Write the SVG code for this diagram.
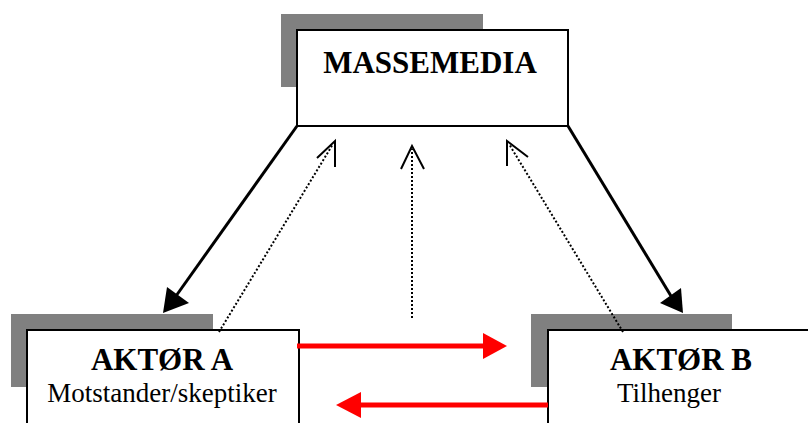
<svg xmlns="http://www.w3.org/2000/svg" width="808" height="423" viewBox="0 0 808 423">
<style>
.shadow{fill:#808080}
.box{fill:#fff;stroke:#000;stroke-width:2}
.title{font-family:"Liberation Serif",serif;font-weight:bold;font-size:31px;fill:#000;text-anchor:middle}
.sub{font-family:"Liberation Serif",serif;font-size:27px;fill:#000}
.solid{stroke:#000;stroke-width:3;fill:none}
.dot{stroke:#000;stroke-width:2;stroke-dasharray:2 2;fill:none}
.open{stroke:#000;stroke-width:2;fill:none}
.red{stroke:#f00;stroke-width:5;fill:none}
</style>
<rect width="808" height="423" fill="#fff"/>
<g id="massemedia">
<rect class="shadow" x="281" y="14" width="202" height="73"/>
<rect class="box" x="297" y="30" width="271" height="96"/>
<text class="title" x="430" y="73">MASSEMEDIA</text>
</g>
<g id="aktor-a">
<rect class="shadow" x="11" y="314" width="202" height="73"/>
<rect class="box" x="27" y="330" width="272" height="100"/>
<text class="title" x="162" y="370">AKTØR A</text>
<text class="sub" x="162" y="402" text-anchor="middle">Motstander/skeptiker</text>
</g>
<g id="aktor-b">
<rect class="shadow" x="531" y="314" width="201" height="73"/>
<rect class="box" x="548" y="330" width="270" height="100"/>
<text class="title" x="681" y="370">AKTØR B</text>
<text class="sub" x="617" y="402">Tilhenger</text>
</g>
<g id="connectors">
<line class="solid" x1="297" y1="126" x2="176" y2="296"/>
<polygon points="163,313 167,287 189,303" fill="#000"/>
<line class="solid" x1="568" y1="126" x2="671" y2="296"/>
<polygon points="683,313 660,303 681,288" fill="#000"/>
<line class="dot" x1="219" y1="332" x2="333" y2="144"/>
<polyline class="open" points="317,158 335,141 335,167"/>
<line class="dot" x1="412" y1="318" x2="412" y2="149"/>
<polyline class="open" points="401,169 412,146 424,169"/>
<line class="dot" x1="623" y1="332" x2="509" y2="144"/>
<polyline class="open" points="507,166 507,141 528,157"/>
<line class="red" x1="297" y1="346" x2="486" y2="346"/>
<polygon points="507,346 483,333 483,359" fill="#f00"/>
<line class="red" x1="548" y1="405" x2="358" y2="405"/>
<polygon points="336,405 361,392 361,418" fill="#f00"/>
</g>
</svg>
